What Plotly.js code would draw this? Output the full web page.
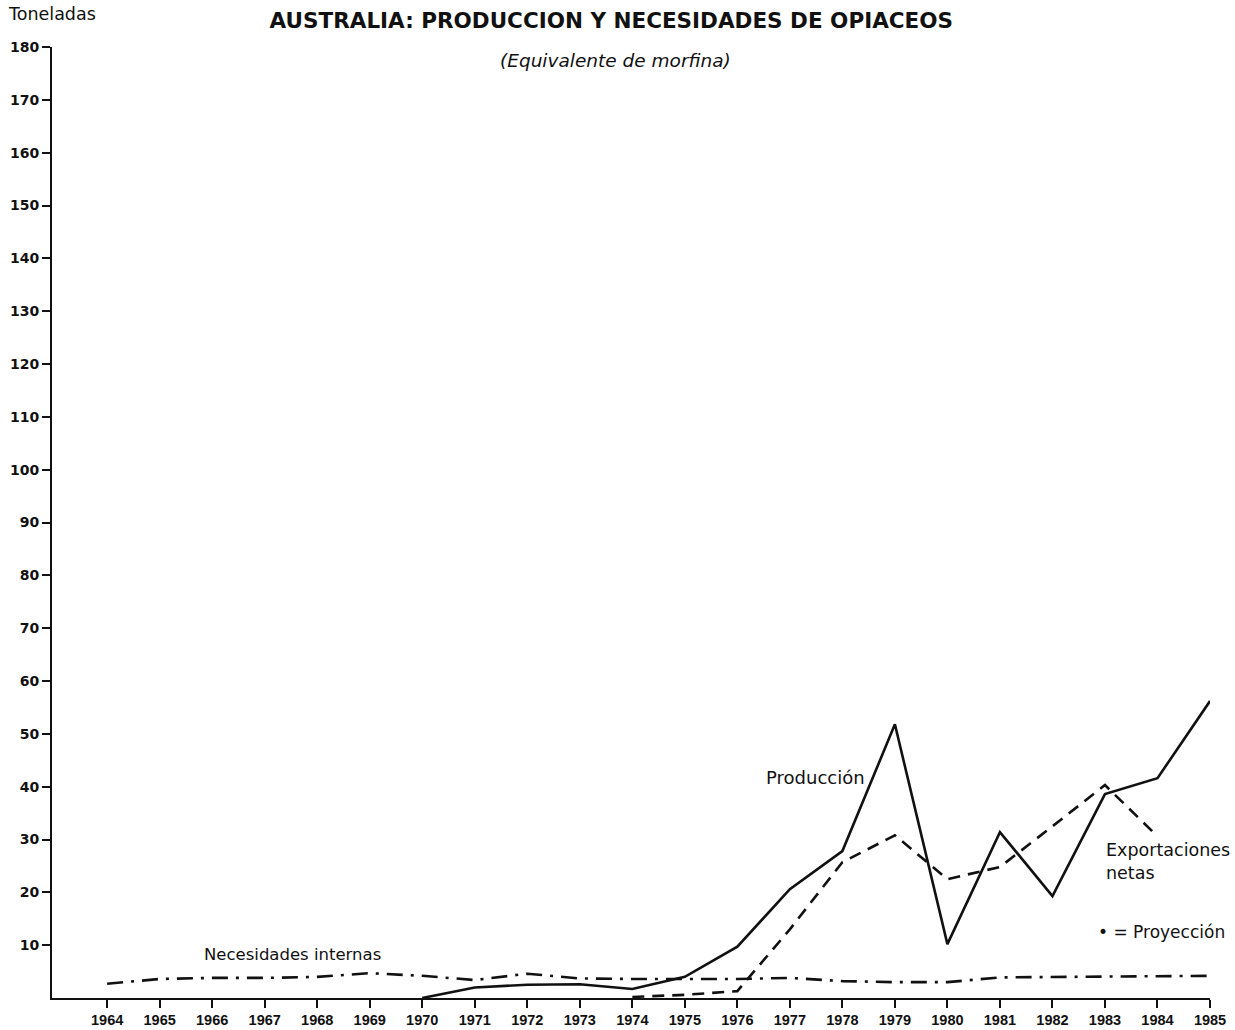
<!DOCTYPE html>
<html>
<head>
<meta charset="utf-8">
<script src="https://cdn.plot.ly/plotly-3.0.1.min.js"></script>
<style>
  html, body { margin: 0; padding: 0; background: #fff; }
  #chart { width: 1235px; height: 1030px; }
</style>
</head>
<body>
<div id="chart"></div>
<script>
// years on the x axis
var years = [1964, 1965, 1966, 1967, 1968, 1969, 1970, 1971, 1972, 1973, 1974,
             1975, 1976, 1977, 1978, 1979, 1980, 1981, 1982, 1983, 1984, 1985];

// Producción (t), starts 1970
var prodYears = [1970, 1971, 1972, 1973, 1974, 1975, 1976, 1977, 1978, 1979, 1980, 1981, 1982, 1983, 1984, 1985];
var produccion = [0, 2.0, 2.5, 2.6, 1.7, 4.0, 9.7, 20.6, 27.8, 51.8, 10.2, 31.4, 19.3, 38.6, 41.6, 56.2];

// Exportaciones netas (t), 1974-1984
var expYears = [1974, 1975, 1976, 1977, 1978, 1979, 1980, 1981, 1982, 1983, 1984];
var exportaciones = [0.2, 0.6, 1.3, 13, 25.7, 30.8, 22.5, 24.8, 32.5, 40.3, 30.6];

// Necesidades internas (t), all years
var necesidades = [2.7, 3.6, 3.8, 3.8, 4.0, 4.7, 4.2, 3.4, 4.6, 3.7, 3.6,
                   3.6, 3.6, 3.8, 3.2, 3.0, 3.0, 3.9, 4.0, 4.0, 4.2, 4.2];

var yTicks = [10, 20, 30, 40, 50, 60, 70, 80, 90, 100, 110, 120, 130, 140, 150, 160, 170, 180];

var ink = '#111';
var sans = 'Liberation Sans, Arial, sans-serif';
var wide = 'DejaVu Sans, Verdana, sans-serif';

function label(size) {
  return {family: wide, size: size, color: ink};
}

var data = [
  {
    x: prodYears, y: produccion, type: 'scatter', mode: 'lines',
    name: 'Producción', line: {color: ink, width: 2.6}
  },
  {
    x: expYears, y: exportaciones, type: 'scatter', mode: 'lines',
    name: 'Exportaciones netas', line: {color: ink, width: 2.6, dash: '12px,8px'}
  },
  {
    x: years, y: necesidades, type: 'scatter', mode: 'lines',
    name: 'Necesidades internas', line: {color: ink, width: 2.6, dash: '16px,8px,3px,8px'}
  }
];

var layout = {
  width: 1235,
  height: 1030,
  margin: {l: 52, r: 25, t: 47, b: 32},
  paper_bgcolor: '#fff',
  plot_bgcolor: '#fff',
  showlegend: false,
  title: {
    text: 'AUSTRALIA: PRODUCCION Y NECESIDADES DE OPIACEOS',
    font: {family: wide, size: 21.5, color: ink, weight: 'bold'},
    x: 0.495, xref: 'container', xanchor: 'center',
    y: 0.9806, yref: 'container', yanchor: 'middle'
  },
  xaxis: {
    range: [1962.95, 1985],
    tickvals: years,
    ticktext: years.map(String),
    ticks: 'outside', ticklen: 8, tickwidth: 2, tickcolor: ink,
    showline: true, linewidth: 2, linecolor: ink,
    showgrid: false, zeroline: false,
    tickfont: {family: sans, size: 14.5, color: ink, weight: 'bold'}
  },
  yaxis: {
    range: [0, 180],
    tickvals: yTicks,
    ticks: 'outside', ticklen: 8, tickwidth: 2, tickcolor: ink,
    showline: true, linewidth: 2, linecolor: ink,
    showgrid: false, zeroline: false,
    tickfont: {family: wide, size: 14, color: ink, weight: 'bold'}
  },
  annotations: [
    {
      text: '(Equivalente de morfina)', xref: 'paper', yref: 'paper',
      x: 0.487, y: 0.986, xanchor: 'center', yanchor: 'middle', showarrow: false,
      font: {family: wide, size: 18.5, color: ink, style: 'italic'}
    },
    {
      text: 'Toneladas', xref: 'paper', yref: 'paper',
      x: -0.0395, y: 1.035, xanchor: 'left', yanchor: 'middle', showarrow: false,
      font: label(17.5)
    },
    {
      text: 'Producción', x: 1978.46, y: 41.8, xanchor: 'right', yanchor: 'middle',
      showarrow: false, font: label(18)
    },
    {
      text: 'Exportaciones<br>netas', x: 1982.99, y: 25.9, xanchor: 'left', yanchor: 'middle',
      align: 'left', showarrow: false, font: label(17.5)
    },
    {
      text: '• = Proyección', x: 1982.82, y: 12.5, xanchor: 'left', yanchor: 'middle',
      showarrow: false, font: label(17)
    },
    {
      text: 'Necesidades internas', x: 1965.81, y: 8.3, xanchor: 'left', yanchor: 'middle',
      showarrow: false, font: label(16.5)
    }
  ]
};

Plotly.newPlot('chart', data, layout, {staticPlot: true});
</script>
</body>
</html>
